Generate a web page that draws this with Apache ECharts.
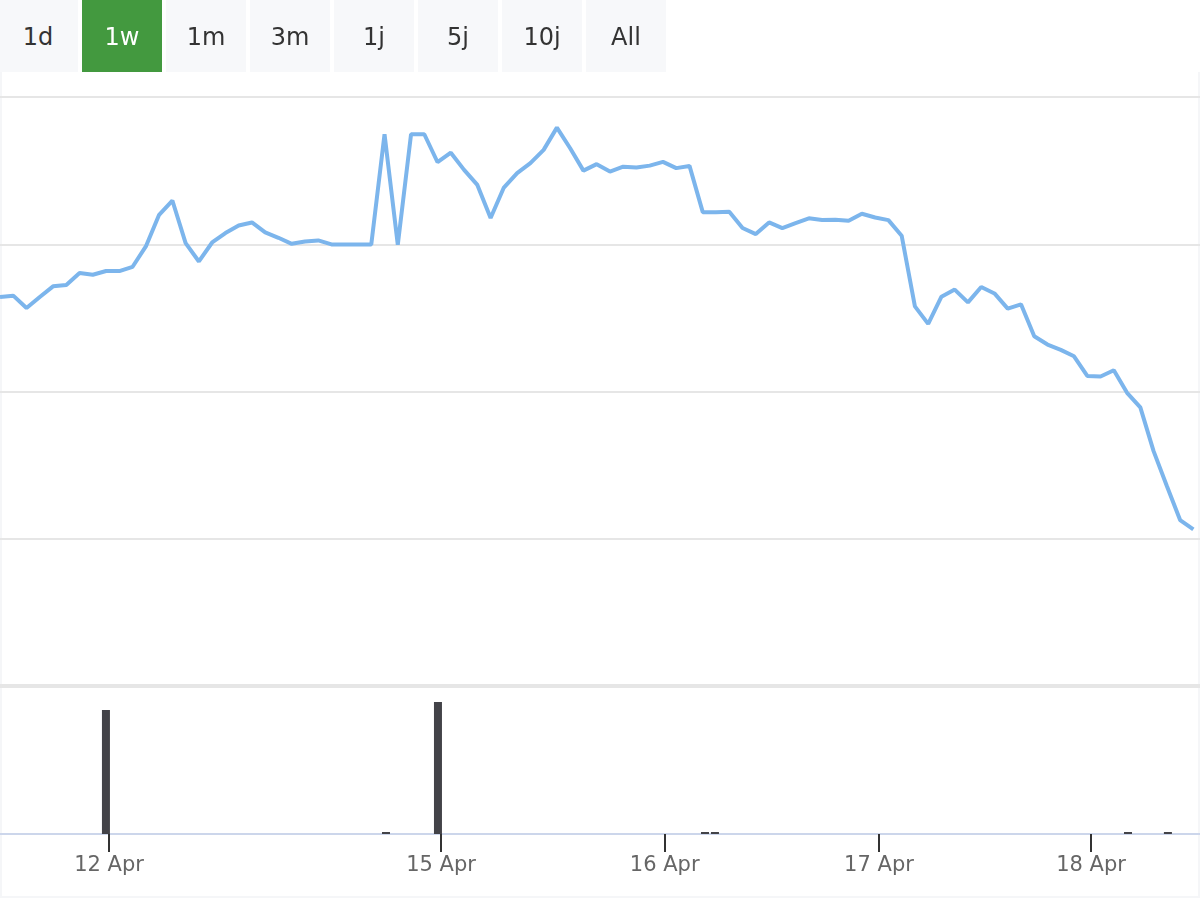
<!DOCTYPE html>
<html>
<head>
<meta charset="utf-8">
<script src="https://cdn.jsdelivr.net/npm/echarts@6/dist/echarts.min.js"></script>
<style>
  html, body { margin: 0; padding: 0; background: #fff; }
  .wrap { position: relative; width: 1200px; height: 900px; overflow: hidden; }
  #chart { position: absolute; left: 0; top: 0; width: 1200px; height: 900px; }
  .frame {
    position: absolute; left: 0; top: 72px; width: 1196px; height: 824px;
    border: 2px solid #f5f6f8; border-top: none;
  }
  .ranges { position: absolute; left: 0; top: 0; height: 72px; }
  .ranges span {
    position: absolute; top: 0; width: 80px; height: 72px; line-height: 74px;
    text-align: center; background: #f7f8fa; color: #333;
    font-family: "DejaVu Sans", sans-serif; font-size: 24px;
  }
  .ranges span.active { background: #43993f; color: #fff; }
</style>
</head>
<body>
<div class="wrap">
  <div class="frame"></div>
  <div id="chart"></div>
  <div class="ranges" id="ranges"></div>
</div>
<script>
// range selector buttons
const ranges = ["1d", "1w", "1m", "3m", "1j", "5j", "10j", "All"];
const activeRange = "1w";

// price line, one value per point (equally spaced)
const prices = [
  26.42, 26.51, 25.67, 26.42, 27.14, 27.23, 28.05, 27.93, 28.18, 28.18,
  28.47, 29.85, 32.0, 32.97, 30.08, 28.83, 30.12, 30.76, 31.27, 31.48,
  30.8, 30.44, 30.03, 30.19, 30.26, 29.99, 29.99, 29.99, 29.99, 37.47,
  29.97, 37.47, 37.47, 35.57, 36.22, 35.05, 34.03, 31.78, 33.85, 34.83,
  35.51, 36.41, 37.92, 36.52, 35.0, 35.44, 34.94, 35.27, 35.21, 35.34,
  35.59, 35.17, 35.32, 32.18, 32.18, 32.2, 31.1, 30.69, 31.48, 31.1,
  31.44, 31.76, 31.64, 31.66, 31.59, 32.07, 31.82, 31.64, 30.58, 25.78,
  24.59, 26.44, 26.92, 26.05, 27.1, 26.66, 25.63, 25.92, 23.75, 23.19,
  22.83, 22.39, 21.06, 21.02, 21.44, 19.91, 18.92, 15.95, 13.58, 11.27,
  10.64
];

// volume bars: position on the point scale and size
const volumeAt = [7.99, 29.11, 33.03, 53.17, 53.92, 85.07, 88.08];
const volumes = [1240, 20, 1320, 20, 20, 20, 20];

// date ticks on the point scale
const tickAt = [8.22, 33.26, 50.13, 66.29, 82.28];
const tickLabels = ["12 Apr", "15 Apr", "16 Apr", "17 Apr", "18 Apr"];

const rangeBox = document.getElementById("ranges");
ranges.forEach((r, i) => {
  const el = document.createElement("span");
  el.textContent = r;
  el.style.left = (i === 0 ? -2 : i * 84 - 2) + "px";
  if (r === activeRange) el.className = "active";
  rangeBox.appendChild(el);
});

const chart = echarts.init(document.getElementById("chart"));
const xMax = 90.5;

chart.setOption({
  animation: false,
  grid: [
    { left: 0, right: 0, top: 97, bottom: 214 },
    { left: 0, right: 0, top: 690, bottom: 66 }
  ],
  xAxis: [
    {
      type: "value", gridIndex: 0, min: 0, max: xMax,
      axisLine: { show: true, lineStyle: { color: "#e6e6e6", width: 4 } },
      axisTick: { show: false },
      axisLabel: { show: false },
      splitLine: { show: false }
    },
    {
      type: "value", gridIndex: 1, min: 0, max: xMax,
      axisLine: { show: true, lineStyle: { color: "#ccd6eb", width: 2 } },
      axisTick: {
        show: true, customValues: tickAt, length: 18,
        lineStyle: { color: "#333", width: 2 }
      },
      axisLabel: {
        show: true, customValues: tickAt, margin: 21,
        color: "#666", fontSize: 21, fontFamily: "DejaVu Sans",
        formatter: (v) => {
          const k = tickAt.findIndex((t) => Math.abs(t - v) < 0.01);
          return k >= 0 ? tickLabels[k] : "";
        }
      },
      splitLine: { show: false }
    }
  ],
  yAxis: [
    {
      type: "value", gridIndex: 0, min: 0, max: 40, interval: 10,
      axisLine: { show: false },
      axisTick: { show: false },
      axisLabel: { show: false },
      splitLine: { lineStyle: { color: "#e6e6e6", width: 2 } }
    },
    {
      type: "value", gridIndex: 1, min: 0, max: 1440,
      axisLine: { show: false },
      axisTick: { show: false },
      axisLabel: { show: false },
      splitLine: { show: false }
    }
  ],
  series: [
    {
      type: "line",
      xAxisIndex: 0, yAxisIndex: 0,
      data: prices.map((v, i) => [i, v]),
      showSymbol: false,
      lineStyle: { color: "#7cb5ec", width: 4 },
      itemStyle: { color: "#7cb5ec" }
    },
    {
      type: "bar",
      xAxisIndex: 1, yAxisIndex: 1,
      data: volumes.map((v, i) => [volumeAt[i], v]),
      barWidth: 8,
      itemStyle: { color: "#434348" }
    }
  ]
});
</script>
</body>
</html>
